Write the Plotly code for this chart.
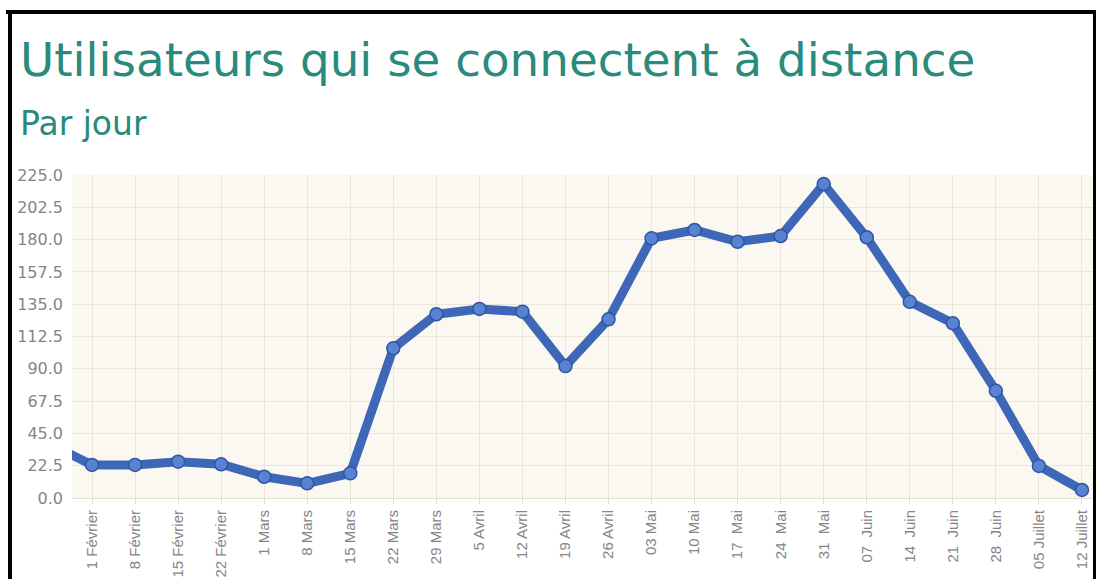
import plotly.graph_objects as go

# Data
categories = ["25 Janvier", "1 Février", "8 Février", "15 Février", "22 Février", "1 Mars", "8 Mars",
              "15 Mars", "22 Mars", "29 Mars", "5 Avril", "12 Avril", "19 Avril", "26 Avril",
              "03 Mai", "10 Mai", "17  Mai", "24  Mai", "31  Mai", "07  Juin", "14  Juin",
              "21  Juin", "28  Juin", "05 Juillet", "12 Juillet"]
values = [38, 23, 23, 25.3, 23.5, 14.8, 10.2, 17.2, 104.3, 128, 131.7, 129.8, 91.9, 124.5,
          180.9, 186.7, 178.5, 182.5, 218.7, 181.6, 136.7, 121.7, 74.7, 22.3, 5.6]
y_ticks = [0, 22.5, 45, 67.5, 90, 112.5, 135, 157.5, 180, 202.5, 225]

title_text = "Utilisateurs qui se connectent à distance"
subtitle_text = "Par jour"

W, H = 1096, 579
L, R, T, B = 72, 2, 175, 81
pw = W - L - R
ph = H - T - B


def px_x(p):
    return (p - L) / pw


def px_y(p):
    return (H - B - p) / ph


FONT = "DejaVu Sans"
TEAL = "#2A8A7C"
GRAY = "#858585"

fig = go.Figure()
fig.add_trace(go.Scatter(
    x=categories, y=values, mode="lines+markers",
    line=dict(color="#3F67B8", width=9),
    marker=dict(size=13, color="#5A82D2", line=dict(color="#2E56A6", width=1.5)),
    hoverinfo="x+y", showlegend=False,
))

fig.update_layout(
    width=W, height=H,
    margin=dict(l=L, r=R, t=T, b=B, pad=0),
    paper_bgcolor="white",
    plot_bgcolor="#FAF8F0",
    font=dict(family=FONT, color=GRAY),
    showlegend=False,
    xaxis=dict(
        type="category", categoryorder="array", categoryarray=categories,
        range=[0.535, 24.28], automargin=False,
        tickangle=-90, tickfont=dict(size=15, color=GRAY, family="Liberation Sans"),
        showgrid=True, gridcolor="#EAE7DA", gridwidth=1,
        ticks="outside", ticklen=5, tickcolor="#E2DFD3",
        showline=True, linecolor="#E2DFD3", linewidth=1,
        zeroline=False,
    ),
    yaxis=dict(
        range=[0, 225], automargin=False,
        tickmode="array", tickvals=y_ticks, ticktext=[f"{v:.1f}" for v in y_ticks],
        tickfont=dict(size=16, color=GRAY, family=FONT),
        showgrid=True, gridcolor="#EAE7DA", gridwidth=1,
        zeroline=False, showline=False,
        ticklabelstandoff=8,
    ),
)

fig.add_annotation(text=title_text, xref="paper", yref="paper",
                   x=px_x(18), y=px_y(60), xanchor="left", yanchor="middle",
                   showarrow=False, font=dict(size=46.8, color=TEAL, family=FONT))
fig.add_annotation(text=subtitle_text, xref="paper", yref="paper",
                   x=px_x(18), y=px_y(124), xanchor="left", yanchor="middle",
                   showarrow=False, font=dict(size=33, color=TEAL, family=FONT))

# black frame of the screenshot
fig.add_shape(type="line", xref="paper", yref="paper",
              x0=px_x(6), x1=px_x(1100), y0=px_y(12), y1=px_y(12),
              line=dict(color="black", width=4), layer="above")
fig.add_shape(type="line", xref="paper", yref="paper",
              x0=px_x(10), x1=px_x(10), y0=px_y(10), y1=px_y(600),
              line=dict(color="black", width=4), layer="above")
fig.add_shape(type="line", xref="paper", yref="paper",
              x0=px_x(1094.5), x1=px_x(1094.5), y0=px_y(10), y1=px_y(600),
              line=dict(color="black", width=3), layer="above")

fig.write_html("out.html", config={"displayModeBar": False},
               post_script="document.body.style.margin='0';document.body.style.overflow='hidden';")
